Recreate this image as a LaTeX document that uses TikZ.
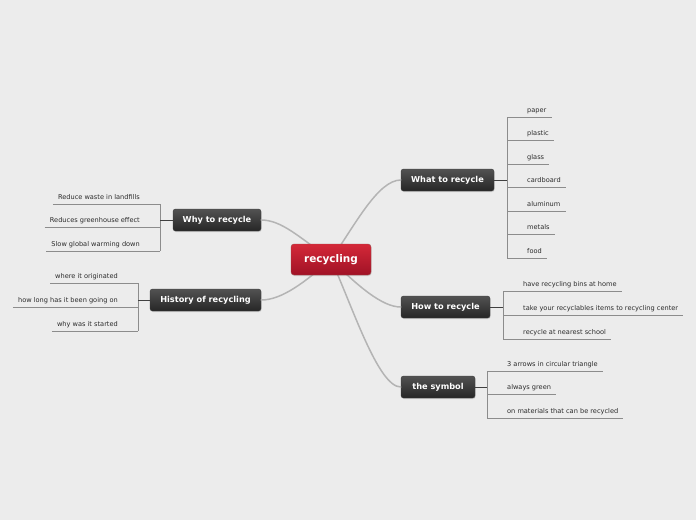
\documentclass[tikz,border=0pt]{standalone}
\usepackage{fontspec}
\setmainfont{DejaVu Sans}
\usetikzlibrary{shadows}
\definecolor{bg}{HTML}{ECECEC}
\definecolor{txt}{HTML}{2A2A2A}
\definecolor{curve}{HTML}{B4B4B4}
\definecolor{uline}{HTML}{8C8C8C}
\definecolor{stemc}{HTML}{404040}
\begin{document}
\begin{tikzpicture}[x=1pt,y=-1pt,
  mainnode/.style={rounded corners=2.5pt, draw=black!75, top color=black!68, bottom color=black!85,
    text=white, font=\fontsize{8.2}{9}\bfseries\selectfont, minimum height=22pt, inner sep=0pt,
    drop shadow={opacity=0.25, shadow xshift=0.6pt, shadow yshift=-1pt}},
  rootnode/.style={rounded corners=3pt, draw=red!45!black!70, top color={rgb,255:red,212;green,40;blue,56}, bottom color={rgb,255:red,160;green,18;blue,38},
    text=white, font=\fontsize{10.5}{12}\bfseries\selectfont, minimum width=80pt, minimum height=31pt, inner sep=0pt,
    drop shadow={opacity=0.25, shadow xshift=0.6pt, shadow yshift=-1pt}},
  subtext/.style={inner xsep=0pt, inner ysep=3pt, text height=4.6pt, text depth=1.5pt,
    font=\fontsize{6.6}{8}\selectfont, text=txt},
  rsub/.style={subtext, anchor=south west, execute at begin node={\hspace*{20pt}}, execute at end node={\hspace*{5pt}}},
  lsub/.style={subtext, anchor=south east, execute at begin node={\hspace*{5pt}}, execute at end node={\hspace*{20pt}}},
  ul/.style={draw=uline, line width=0.8pt},
  brk/.style={draw=uline, line width=0.8pt},
  stem/.style={draw=stemc, line width=1pt},
  branch/.style={draw=curve, line width=1.5pt, line cap=round}
]
\fill[bg] (0,0) rectangle (696,520);
\useasboundingbox (0,0) rectangle (696,520);

\coordinate (rc) at (331,259.5);

\node[mainnode, minimum width=93pt] (what) at (447.5,180) {What to recycle};
\node[mainnode, minimum width=89pt] (how) at (445.5,307) {How to recycle};
\node[mainnode, minimum width=74pt] (sym) at (438,387) {the symbol};
\node[mainnode, minimum width=88pt] (why) at (217,220) {Why to recycle};
\node[mainnode, minimum width=111pt] (hist) at (205.5,300) {History of recycling};

\draw[branch] (rc) .. controls (355,225) and (378,180) .. (what.west);
\draw[branch] (rc) .. controls (358,286) and (382,307) .. (how.west);
\draw[branch] (rc) .. controls (352,305) and (378,387) .. (sym.west);
\draw[branch] (rc) .. controls (300,238) and (282,220) .. (why.east);
\draw[branch] (rc) .. controls (305,282) and (282,300) .. (hist.east);

\node[rootnode] (root) at (rc) {recycling};

% What to recycle items
\node[rsub] (w1) at (507,117) {paper};
\node[rsub] (w2) at (507,140.5) {plastic};
\node[rsub] (w3) at (507,164) {glass};
\node[rsub] (w4) at (507,187.5) {cardboard};
\node[rsub] (w5) at (507,211) {aluminum};
\node[rsub] (w6) at (507,234.5) {metals};
\node[rsub] (w7) at (507,258) {food};
\foreach \n in {w1,w2,w3,w4,w5,w6,w7} \draw[ul] (\n.south west) -- (\n.south east);
\draw[brk] (w1.south west) -- (w7.south west);
\draw[stem] (what.east) -- (what.east -| w1.south west);

% How to recycle items
\node[rsub] (h1) at (503,291) {have recycling bins at home};
\node[rsub] (h2) at (503,315) {take your recyclables items to recycling center};
\node[rsub] (h3) at (503,339) {recycle at nearest school};
\foreach \n in {h1,h2,h3} \draw[ul] (\n.south west) -- (\n.south east);
\draw[brk] (h1.south west) -- (h3.south west);
\draw[stem] (how.east) -- (how.east -| h1.south west);

% the symbol items
\node[rsub] (s1) at (487,371) {3 arrows in circular triangle};
\node[rsub] (s2) at (487,394.5) {always green};
\node[rsub] (s3) at (487,418) {on materials that can be recycled};
\foreach \n in {s1,s2,s3} \draw[ul] (\n.south west) -- (\n.south east);
\draw[brk] (s1.south west) -- (s3.south west);
\draw[stem] (sym.east) -- (sym.east -| s1.south west);

% Why to recycle items
\node[lsub] (y1) at (160,204) {Reduce waste in landfills};
\node[lsub] (y2) at (160,227.5) {Reduces greenhouse effect};
\node[lsub] (y3) at (160,251) {Slow global warming down};
\foreach \n in {y1,y2,y3} \draw[ul] (\n.south west) -- (\n.south east);
\draw[brk] (y1.south east) -- (y3.south east);
\draw[stem] (why.west) -- (why.west -| y1.south east);

% History items
\node[lsub] (t1) at (138,283) {where it originated};
\node[lsub] (t2) at (138,307) {how long has it been going on};
\node[lsub] (t3) at (138,331) {why was it started};
\foreach \n in {t1,t2,t3} \draw[ul] (\n.south west) -- (\n.south east);
\draw[brk] (t1.south east) -- (t3.south east);
\draw[stem] (hist.west) -- (hist.west -| t1.south east);
\end{tikzpicture}
\end{document}
